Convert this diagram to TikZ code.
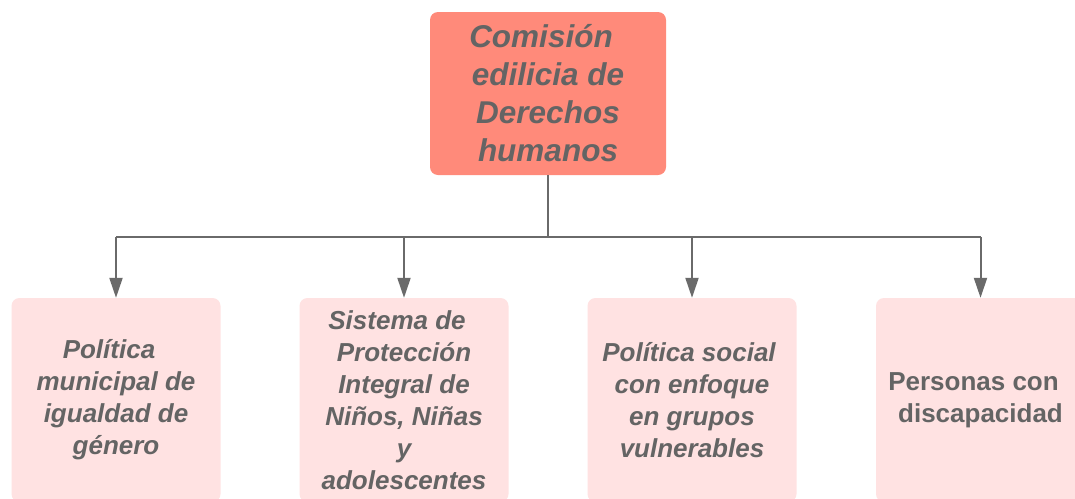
\documentclass[tikz,border=0pt]{standalone}
\usepackage{fontspec}
\setmainfont{Liberation Sans}
\usetikzlibrary{arrows.meta}
\definecolor{topfill}{HTML}{FF8A7A}
\definecolor{childfill}{HTML}{FFE2E2}
\definecolor{txt}{HTML}{646464}
\definecolor{ln}{HTML}{6A6A6A}
\tikzset{
  topbox/.style={draw=none, fill=topfill, rounded corners=8pt, minimum width=236pt, minimum height=163pt, inner sep=0pt, align=center, text=txt, font=\fontsize{31.5}{38}\selectfont\bfseries\itshape},
  childbox/.style={draw=none, fill=childfill, rounded corners=8pt, minimum width=209pt, minimum height=204pt, inner sep=0pt, align=center, text=txt, font=\fontsize{26}{32}\selectfont\bfseries\itshape},
  conn/.style={draw=ln, line width=2pt},
  arr/.style={conn, -{Triangle[length=20pt,width=13pt]}},
}
\begin{document}
\begin{tikzpicture}[x=1pt,y=-1pt]
\useasboundingbox (0,0) rectangle (1075,498);
\clip (0,0) rectangle (1075,498);
\fill[white] (0,0) rectangle (1075,498);
\node[topbox] (top) at (548,93.5) {Comisión\hspace*{14pt}\\edilicia de\\Derechos\\humanos};
\node[childbox] (c1) at (116,400) {Política\hspace*{14pt}\\municipal de\\igualdad de\\género};
\node[childbox] (c2) at (404,400) {Sistema de\hspace*{14pt}\\Protección\\Integral de\\Niños, Niñas\\y\\adolescentes};
\node[childbox] (c3) at (692,400) {Política social\hspace*{6pt}\\con enfoque\\en grupos\\vulnerables};
\node[childbox, font=\fontsize{26}{32}\selectfont\bfseries] (c4) at (980.5,400) {Personas con\hspace*{14pt}\\discapacidad};
\coordinate (hub) at (548,237);
\coordinate (k1) at (116,237);
\coordinate (k2) at (404,237);
\coordinate (k3) at (692,237);
\coordinate (k4) at (980.5,237);
\draw[conn] (top.south) -- (hub);
\draw[conn] (k1) -- (k4);
\draw[arr] (k1) -- (c1.north);
\draw[arr] (k2) -- (c2.north);
\draw[arr] (k3) -- (c3.north);
\draw[arr] (k4) -- (c4.north);
\end{tikzpicture}
\end{document}
